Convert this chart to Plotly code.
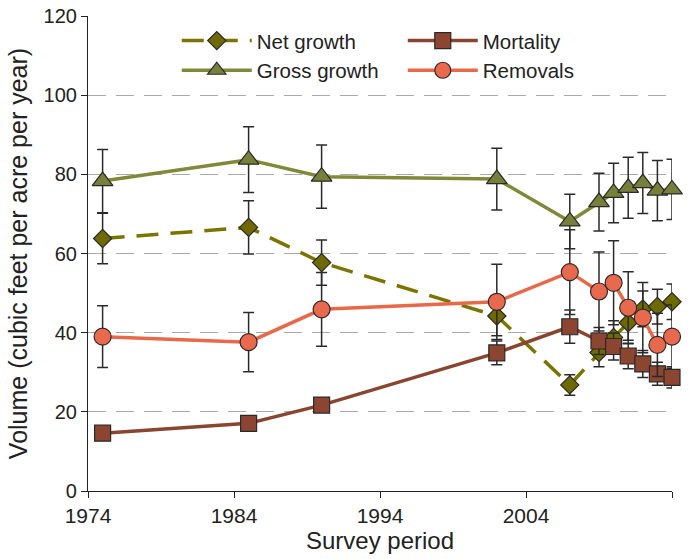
import plotly.graph_objects as go

years = [1975, 1985, 1990, 2002, 2007, 2009, 2010, 2011, 2012, 2013, 2014]

net_growth = [63.8, 66.6, 57.7, 44.2, 26.8, 35.0, 38.8, 42.5, 46.0, 46.6, 47.8]
net_err = [6.4, 6.7, 5.7, 5.0, 2.6, 3.6, 4.2, 4.4, 4.5, 4.4, 4.5]

gross_growth = [78.3, 83.7, 79.4, 78.8, 68.1, 73.0, 75.3, 76.6, 77.8, 75.9, 76.2]
gross_err = [8.0, 8.3, 8.0, 7.8, 6.9, 7.3, 7.5, 7.7, 7.7, 7.6, 7.6]

mortality = [14.6, 17.1, 21.7, 34.9, 41.5, 37.9, 36.5, 34.1, 32.1, 29.6, 28.7]
mort_err = [0.8, 0.8, 1.7, 3.0, 4.2, 3.4, 3.4, 3.2, 3.4, 2.9, 2.7]

removals = [39.0, 37.6, 45.9, 47.8, 55.3, 50.4, 52.6, 46.3, 43.8, 36.9, 39.0]
rem_err = [7.8, 7.5, 9.3, 9.5, 10.7, 10.0, 10.6, 9.1, 8.9, 8.0, 8.0]

x_ticks = [1974, 1984, 1994, 2004, 2014]
y_ticks = [0, 20, 40, 60, 80, 100, 120]

FONT = "Liberation Sans, Arial, sans-serif"
ERR = dict(type="data", visible=True, thickness=1.5, width=5.5, color="#2a2a2a")

fig = go.Figure()

def add(name, y, err, color, mcolor, symbol, msize, dash, rank):
    fig.add_trace(go.Scatter(
        x=years, y=y, name=name, mode="lines+markers",
        line=dict(color=color, width=3.5, dash=dash),
        marker=dict(symbol=symbol, size=msize, color=mcolor,
                    line=dict(color="#2a2a2a", width=1.2)),
        error_y=dict(array=err, **ERR),
        cliponaxis=False, legendrank=rank,
    ))

add("Net growth", net_growth, net_err, "#7a7400", "#6e6900", "diamond", 14, "22px,12px", 1)
add("Gross growth", gross_growth, gross_err, "#7f8a38", "#76803a", "triangle-up", 18, "solid", 3)
add("Mortality", mortality, mort_err, "#8a4530", "#8b4530", "square", 16, "solid", 2)
add("Removals", removals, rem_err, "#e8694a", "#e9694f", "circle", 17, "solid", 4)

fig.update_layout(
    width=694, height=559,
    margin=dict(l=88, r=22, t=16, b=68, autoexpand=False),
    paper_bgcolor="white", plot_bgcolor="white",
    font=dict(family=FONT, size=20, color="#222"),
    legend=dict(orientation="h", x=0.152, y=0.99, xanchor="left", yanchor="top",
                entrywidth=141, entrywidthmode="pixels", itemwidth=70,
                font=dict(size=20.5, family=FONT, color="#222"),
                bgcolor="rgba(255,255,255,0)", tracegroupgap=0),
    showlegend=True,
)

fig.update_xaxes(
    range=[1974, 2014], tickvals=x_ticks, ticktext=[str(t) for t in x_ticks],
    showline=True, linecolor="#222", linewidth=1.2,
    ticks="outside", ticklen=6, tickcolor="#222", tickwidth=1.2,
    showgrid=False, zeroline=False, automargin=False,
    title=dict(text="Survey period", font=dict(size=24, family=FONT), standoff=4),
    tickfont=dict(size=21, family=FONT),
)
fig.update_yaxes(
    range=[0, 120], tickvals=y_ticks,
    showline=True, linecolor="#222", linewidth=1.2,
    ticks="outside", ticklen=6, tickcolor="#222", tickwidth=1.2,
    showgrid=True, gridcolor="#aaaaaa", gridwidth=1.3, griddash="18px,10px",
    zeroline=False, automargin=False,
    title=dict(text="Volume (cubic feet per acre per year)", font=dict(size=25, family=FONT), standoff=8),
    tickfont=dict(size=20, family=FONT),
)

fig.write_html("out.html")
